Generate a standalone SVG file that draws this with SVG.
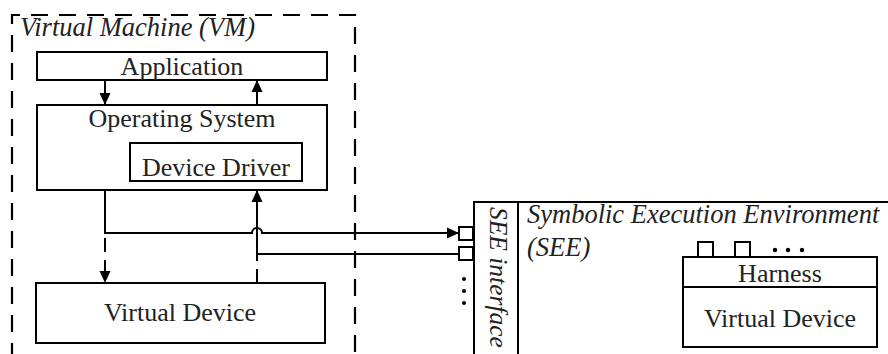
<svg xmlns="http://www.w3.org/2000/svg" width="888" height="354" viewBox="0 0 888 354">
<defs>
<style>
.box{fill:#fff;stroke:#000;stroke-width:2}
.ln{fill:none;stroke:#000;stroke-width:2}
.dash{fill:none;stroke:#000;stroke-width:2.2;stroke-dasharray:17 11}
.dc{fill:none;stroke:#000;stroke-width:2;stroke-dasharray:14 8}
.t{font-family:"Liberation Serif","Times New Roman",serif;font-size:26px;fill:#222}
.i{font-style:italic;font-size:26.5px}
.m{text-anchor:middle}
</style>
<marker id="ah" viewBox="0 0 12 12" refX="12" refY="6" markerWidth="12" markerHeight="12" markerUnits="userSpaceOnUse" orient="auto">
<path d="M0,0.5 L12,6 L0,11.5 Z" fill="#000"/>
</marker>
</defs>
<rect width="888" height="354" fill="#fff"/>

<g id="vm">
<path class="dash" d="M12,360 L12,15 L355,15 L355,360"/>
<text class="t i" x="20" y="36">Virtual Machine (VM)</text>
</g>

<g id="application">
<rect class="box" x="37" y="52" width="290" height="28"/>
<text class="t m" x="182" y="75">Application</text>
</g>

<g id="os">
<rect class="box" x="37" y="105" width="290" height="85"/>
<text class="t m" x="182" y="127">Operating System</text>
</g>

<g id="driver">
<rect class="box" x="130" y="143" width="172" height="38"/>
<text class="t m" x="216" y="176">Device Driver</text>
</g>

<g id="vdevice">
<rect class="box" x="36" y="283" width="289" height="60"/>
<text class="t m" x="180" y="321">Virtual Device</text>
</g>

<g id="see">
<path class="box" d="M900,202 L474,202 L474,360"/>
<line class="ln" x1="518" y1="202" x2="518" y2="360"/>
<text class="t i" style="font-size:25.5px" transform="translate(490,207) rotate(90)">SEE interface</text>
<text class="t i" x="527" y="223">Symbolic Execution Environment</text>
<text class="t i" x="527" y="256">(SEE)</text>
<rect class="box" x="459" y="227" width="14" height="13"/>
<rect class="box" x="459" y="247" width="14" height="13"/>
<circle cx="464" cy="279" r="2"/>
<circle cx="464" cy="291" r="2"/>
<circle cx="464" cy="303" r="2"/>
</g>

<g id="harness">
<rect class="box" x="698" y="242" width="15" height="15"/>
<rect class="box" x="735" y="242" width="15" height="15"/>
<circle cx="775" cy="250" r="2.2"/>
<circle cx="788" cy="250" r="2.2"/>
<circle cx="802" cy="250" r="2.2"/>
<rect class="box" x="683" y="257" width="194" height="90"/>
<line class="ln" x1="683" y1="287" x2="877" y2="287"/>
<text class="t m" x="780" y="282">Harness</text>
<text class="t m" x="780" y="327">Virtual Device</text>
</g>

<g id="connectors">
<line class="ln" x1="105" y1="80" x2="105" y2="105" marker-end="url(#ah)"/>
<line class="ln" x1="257" y1="105" x2="257" y2="80" marker-end="url(#ah)"/>
<path class="ln" d="M105,190 L105,233 L252,233 A5,5 0 0 1 262,233 L459,233" marker-end="url(#ah)"/>
<line class="dc" x1="105" y1="238" x2="105" y2="283" marker-end="url(#ah)"/>
<path class="ln" d="M459,254 L257,254 L257,190" marker-end="url(#ah)"/>
<line class="dc" x1="257" y1="283" x2="257" y2="254"/>
</g>
</svg>
